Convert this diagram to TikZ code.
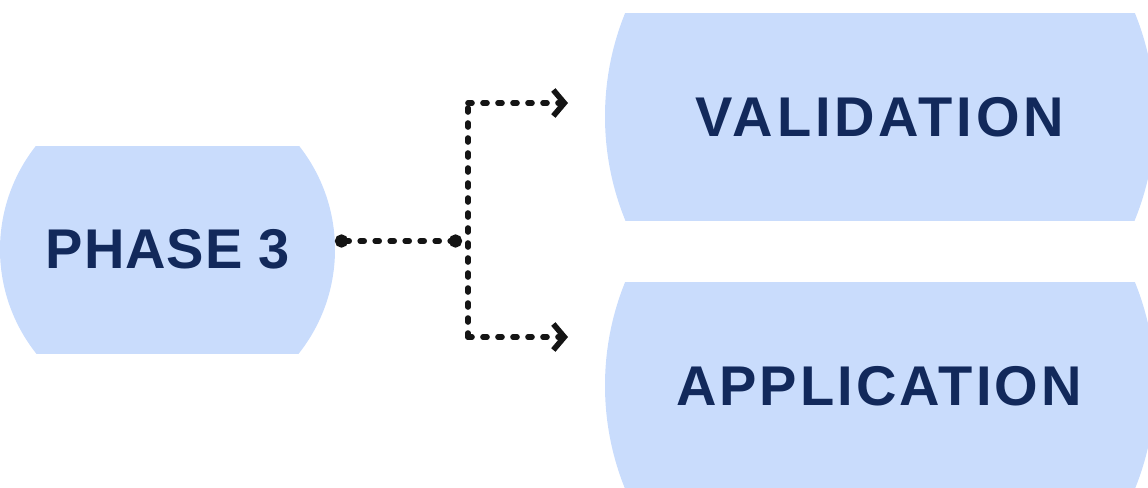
\documentclass[tikz,border=0pt]{standalone}
\usepackage{fontspec}
\setmainfont{Liberation Sans}
\usetikzlibrary{arrows.meta,positioning}

\definecolor{barrelblue}{HTML}{C9DCFC}
\definecolor{navy}{HTML}{12295B}
\definecolor{ink}{HTML}{141414}

\tikzset{
	barrel/.style={fill=barrelblue},
	tag/.style={font=\fontsize{28}{32}\selectfont\bfseries\addfontfeature{LetterSpace=#1},text=navy,inner sep=0pt},
	tag/.default=5,
	link/.style={draw=ink,line width=2.8pt,line cap=round,dash pattern=on 2pt off 5.5pt},
}

\begin{document}
\begin{tikzpicture}[x=0.5pt,y=-0.5pt,>={Straight Barb[length=5.5pt,width=13pt]}]
		\useasboundingbox (0,0) rectangle (1148,488);
		% barrel shapes
		\begin{scope}
			\clip (0,146) rectangle (1148,353);
			\fill[barrel] (167.5,249.5) circle[radius=83.75pt];
		\end{scope}
		\begin{scope}
			\clip (0,13) rectangle (1148,220);
			\fill[barrel] (880,116.5) circle[radius=137.5pt];
		\end{scope}
		\begin{scope}
			\clip (0,282) rectangle (1148,489);
			\fill[barrel] (880,385.5) circle[radius=137.5pt];
		\end{scope}
		\node[tag=1.6] (phase) at (168,249) {PHASE 3};
		\node[tag=6.8] (valid) at (880,117) {VALIDATION};
		\node[tag=5.4] (appl) at (879,386) {APPLICATION};
		\coordinate (phase_out) at (335,241);
		\coordinate (fork_in) at (462,241);
		\coordinate (fork_top) at (468,103);
		\coordinate (fork_bot) at (468,337);
		\coordinate (valid_in) at (568,103);
		\coordinate (appl_in) at (568,337);
		\draw[link,{Circle[length=6.5pt]}-{Circle[length=6.5pt]}] (phase_out) -- (fork_in);
		\draw[link] (fork_bot) -- (fork_top);
		\draw[link,->] (fork_top) -- (valid_in);
		\draw[link,->] (fork_bot) -- (appl_in);
	\end{tikzpicture}
\end{document}
